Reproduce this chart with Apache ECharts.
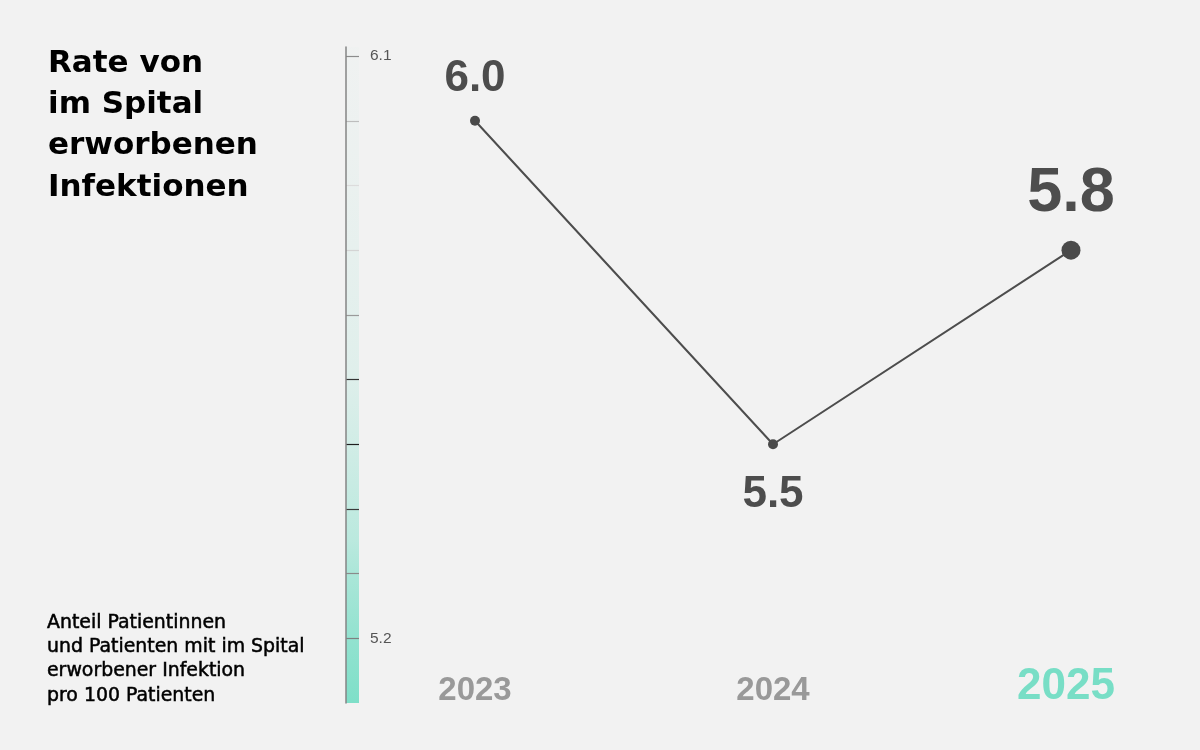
<!DOCTYPE html>
<html>
<head>
<meta charset="utf-8">
<style>
  html, body { margin: 0; padding: 0; background: #f2f2f2; }
  #chart { width: 1200px; height: 750px; }
</style>
<script src="https://cdn.jsdelivr.net/npm/echarts@6/dist/echarts.min.js"></script>
</head>
<body>
<div id="chart"></div>
<script>
// ---- data ----
const years = ['2023', '2024', '2025'];
const rates = [6.0, 5.5, 5.8];
const axisMin = 5.1;
const axisMax = 6.114;
const tickValues = [5.2, 5.3, 5.4, 5.5, 5.6, 5.7, 5.8, 5.9, 6.0, 6.1];
const tickLabels = ['6.1', '5.2'];
const titleLines = ['Rate von', 'im Spital', 'erworbenen', 'Infektionen'];
const noteLines = ['Anteil Patientinnen', 'und Patienten mit im Spital', 'erworbener Infektion', 'pro 100 Patienten'];

// ---- styles ----
const TEAL = 'rgb(120,222,198)';
const tickShades = ['#808080', '#8a8a8a', '#3a3a3a', '#1e1e1e', '#333333', '#9a9a9a', '#d4d4d4', '#dcdcdc', '#bdbdbd', '#8c8c8c'];
const lastIdx = rates.length - 1;

const lineData = rates.map((v, i) => {
  const prev = i > 0 ? rates[i - 1] : -Infinity;
  const next = i < lastIdx ? rates[i + 1] : -Infinity;
  const isMin = v < prev && v < next;
  const isLast = i === lastIdx;
  return {
    value: v,
    symbolSize: isLast ? 19 : 10,
    label: {
      position: isMin ? 'bottom' : 'top',
      fontSize: isLast ? 63 : 44,
      distance: isMin ? 24 : (isLast ? 16 : 15)
    }
  };
});

const chart = echarts.init(document.getElementById('chart'), null, { renderer: 'canvas' });
chart.setOption({
  backgroundColor: '#f2f2f2',
  animation: false,
  title: [
    {
      text: titleLines.join('\n'),
      left: 43, top: 38,
      textStyle: { fontFamily: 'DejaVu Sans', fontWeight: 'bold', fontSize: 31, lineHeight: 41.3, color: '#000' }
    },
    {
      text: noteLines.join('\n'),
      left: 42, top: 606,
      textStyle: {
        fontFamily: 'DejaVu Sans', fontWeight: 'normal', fontSize: 18.9, lineHeight: 24.2, color: '#000',
        textBorderColor: '#000', textBorderWidth: 0.5
      }
    }
  ],
  grid: [
    { left: 475, right: 129, top: 47, bottom: 47 },
    { left: 346, width: 13, top: 47, bottom: 47 }
  ],
  xAxis: [
    {
      gridIndex: 0, type: 'category', data: years, boundaryGap: false,
      axisLine: { show: false }, axisTick: { show: false }, splitLine: { show: false },
      axisLabel: {
        inside: true, margin: 1,
        formatter: (val) => (val === years[lastIdx] ? '{hl|' + val + '}' : '{n|' + val + '}'),
        rich: {
          n: { fontFamily: 'Liberation Sans', fontWeight: 'bold', fontSize: 33, lineHeight: 23, color: '#999999' },
          hl: { fontFamily: 'Liberation Sans', fontWeight: 'bold', fontSize: 44, lineHeight: 31, color: TEAL, padding: [0, 10, 0, 0] }
        }
      }
    },
    {
      gridIndex: 1, type: 'category', data: [''], show: false
    }
  ],
  yAxis: [
    {
      gridIndex: 0, type: 'value', min: axisMin, max: axisMax, show: false
    },
    {
      gridIndex: 1, type: 'value', min: axisMin, max: axisMax, interval: 0.1, z: 10,
      axisLine: { show: true, lineStyle: { color: '#858585', width: 1.5 } },
      axisTick: { show: false },
      splitLine: { show: false },
      axisLabel: {
        inside: true, margin: 24, showMaxLabel: false, showMinLabel: false,
        fontFamily: 'Liberation Sans', fontSize: 15.5, color: '#555555',
        formatter: (v) => {
          const s = (Math.round(v * 10) / 10).toFixed(1);
          return tickLabels.includes(s) ? s : '';
        }
      }
    }
  ],
  series: [
    {
      type: 'bar', xAxisIndex: 1, yAxisIndex: 1, silent: true,
      barWidth: '100%',
      data: [axisMax],
      itemStyle: {
        color: new echarts.graphic.LinearGradient(0, 0, 0, 1, [
          { offset: 0, color: 'rgba(120,222,198,0.02)' },
          { offset: 0.17, color: 'rgba(120,222,198,0.05)' },
          { offset: 0.49, color: 'rgba(120,222,198,0.15)' },
          { offset: 0.61, color: 'rgba(120,222,198,0.28)' },
          { offset: 0.75, color: 'rgba(120,222,198,0.45)' },
          { offset: 0.81, color: 'rgba(120,222,198,0.6)' },
          { offset: 0.9, color: 'rgba(120,222,198,0.78)' },
          { offset: 1, color: 'rgba(120,222,198,0.95)' }
        ])
      },
      markLine: {
        silent: true, symbol: 'none', label: { show: false },
        data: tickValues.map((v, i) => ({ yAxis: v, lineStyle: { color: tickShades[i], width: 1.2, type: 'solid' } }))
      }
    },
    {
      type: 'line', xAxisIndex: 0, yAxisIndex: 0,
      data: lineData,
      symbol: 'circle',
      lineStyle: { color: '#4d4d4d', width: 2 },
      itemStyle: { color: '#4a4a4a' },
      label: {
        show: true,
        fontFamily: 'Liberation Sans', fontWeight: 'bold', color: '#4d4d4d',
        formatter: (p) => p.value.toFixed(1)
      }
    }
  ]
});
</script>
</body>
</html>
